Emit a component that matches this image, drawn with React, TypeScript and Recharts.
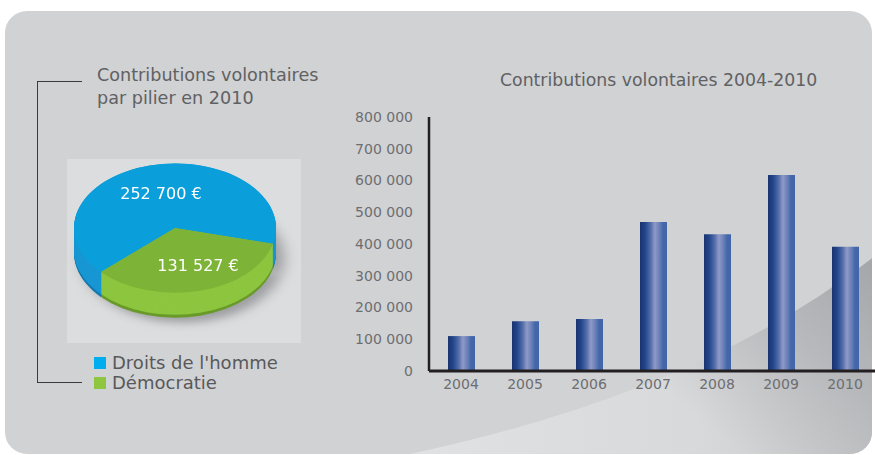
import React from 'react';
import { BarChart, Bar, XAxis, YAxis, PieChart, Pie, Cell } from 'recharts';

const years = ['2004', '2005', '2006', '2007', '2008', '2009', '2010'];
const contributions = [110000, 157000, 164000, 469000, 431000, 617000, 391000];
const yTicks = [0, 100000, 200000, 300000, 400000, 500000, 600000, 700000, 800000];

const pillarNames = ["Droits de l'homme", 'Démocratie'];
const pillarValues = [252700, 131527];
const pillarTopColors = ['#0a9fda', '#7db336'];
const pillarSideColors = ['#1897d3', '#8dc63f'];
const pillarEdgeColors = ['#1479b0', '#6a9a2a'];
const pillarLegendColors = ['#00aeef', '#8dc63f'];

const barTitle = 'Contributions volontaires 2004-2010';
const pieTitleLines = ['Contributions volontaires', 'par pilier en 2010'];

const barData = years.map((y, i) => ({ year: y, value: contributions[i] }));
const pieData = pillarNames.map((n, i) => ({ name: n, value: pillarValues[i] }));

const fmt = (v: number) => String(v).replace(/\B(?=(\d{3})+(?!\d))/g, ' ');

const FONT = '"DejaVu Sans", sans-serif';
const TEXT = '#606163';
const SCALE_Y = 0.64;
const RAD = Math.PI / 180;
const PIE_CX = 115;
const PIE_CY = 122;
const PIE_R = 101;
const DEPTH = 39;
const depthOffsets = Array.from({ length: 27 }, (_, i) => DEPTH - i * 1.5);

const renderTopLabel = (props: any) => {
  const { cx, cy, midAngle, outerRadius, value, index } = props;
  const r = outerRadius * (index === 0 ? 0.56 : 0.6);
  const x = cx + r * Math.cos(-midAngle * RAD) + (index === 0 ? 0 : 8);
  const y = cy + r * Math.sin(-midAngle * RAD);
  return (
    <text
      x={x}
      y={y}
      fill="#ffffff"
      textAnchor="middle"
      dominantBaseline="central"
      fontSize={16}
      fontFamily={FONT}
      transform={`translate(${x} ${y}) scale(1 ${1 / SCALE_Y}) translate(${-x} ${-y})`}
    >
      {fmt(value)} €
    </text>
  );
};

const SWOOSH = 'M 405 443 Q 700 380 870 245 L 870 443 Z';

export default function App() {
  return (
    <div style={{ position: 'absolute', left: 0, top: 0, width: 875, height: 455, overflow: 'hidden', background: '#ffffff', fontFamily: FONT }}>
      {/* panel */}
      <div style={{ position: 'absolute', left: 5, top: 11, width: 867, height: 443, borderRadius: 22, background: '#d1d2d4', overflow: 'hidden' }}>
        <svg width={867} height={443} style={{ position: 'absolute', left: 0, top: 0 }}>
          <defs>
            <linearGradient id="swooshBase" gradientUnits="userSpaceOnUse" x1="420" y1="0" x2="870" y2="0">
              <stop offset="0" stopColor="#e0e1e3" />
              <stop offset="0.6" stopColor="#d8d9db" />
              <stop offset="1" stopColor="#c6c7c9" />
            </linearGradient>
            <linearGradient id="swooshDark" gradientUnits="userSpaceOnUse" x1="865" y1="255" x2="720" y2="430">
              <stop offset="0" stopColor="#a6a7aa" stopOpacity="1" />
              <stop offset="0.45" stopColor="#b1b2b5" stopOpacity="0.75" />
              <stop offset="1" stopColor="#b8b9bc" stopOpacity="0" />
            </linearGradient>
          </defs>
          <path d={SWOOSH} fill="url(#swooshBase)" />
          <path d={SWOOSH} fill="url(#swooshDark)" />
        </svg>
      </div>

      {/* bracket */}
      <div style={{ position: 'absolute', left: 37, top: 81, width: 44, height: 300, borderLeft: '1.5px solid #3a3a3c', borderTop: '1.5px solid #3a3a3c', borderBottom: '1.5px solid #3a3a3c' }} />

      {/* pie title */}
      <div style={{ position: 'absolute', left: 97, top: 64, fontSize: 17.6, lineHeight: '23px', color: TEXT, whiteSpace: 'nowrap' }}>
        {pieTitleLines.map((l) => (
          <div key={l}>{l}</div>
        ))}
      </div>

      {/* pie background */}
      <div style={{ position: 'absolute', left: 67, top: 159, width: 234, height: 184, background: '#dcdddf' }} />

      {/* pie */}
      <div style={{ position: 'absolute', left: 60, top: 150, width: 240, height: 290, transform: `scaleY(${SCALE_Y})`, transformOrigin: 'top left' }}>
        <PieChart width={240} height={290} margin={{ top: 0, right: 0, bottom: 0, left: 0 }}>
          <Pie
            data={pieData}
            dataKey="value"
            cx={PIE_CX + 8}
            cy={PIE_CY + DEPTH + 8}
            outerRadius={PIE_R}
            startAngle={-14}
            endAngle={346}
            stroke="none"
            isAnimationActive={false}
          >
            {pieData.map((d) => (
              <Cell key={'sh' + d.name} fill="#9d9ea1" style={{ filter: 'blur(7px)' }} />
            ))}
          </Pie>
          {depthOffsets.map((off, li) => (
            <Pie
              key={'layer' + li}
              data={pieData}
              dataKey="value"
              cx={PIE_CX}
              cy={PIE_CY + off}
              outerRadius={PIE_R}
              startAngle={-14}
              endAngle={346}
              stroke="none"
              isAnimationActive={false}
            >
              {pieData.map((d, i) => (
                <Cell key={d.name} fill={li < 3 ? pillarEdgeColors[i] : pillarSideColors[i]} />
              ))}
            </Pie>
          ))}
          <Pie
            data={pieData}
            dataKey="value"
            cx={PIE_CX}
            cy={PIE_CY}
            outerRadius={PIE_R}
            startAngle={-14}
            endAngle={346}
            stroke="none"
            label={renderTopLabel}
            labelLine={false}
            isAnimationActive={false}
          >
            {pieData.map((d, i) => (
              <Cell key={d.name} fill={pillarTopColors[i]} />
            ))}
          </Pie>
        </PieChart>
      </div>

      {/* pie legend */}
      <div style={{ position: 'absolute', left: 94, top: 353, fontSize: 18, lineHeight: '20px', color: '#58595b' }}>
        {pieData.map((d, i) => (
          <div key={d.name} style={{ display: 'flex', alignItems: 'center' }}>
            <span style={{ display: 'inline-block', width: 12, height: 12, background: pillarLegendColors[i], marginRight: 6 }} />
            <span>{d.name}</span>
          </div>
        ))}
      </div>

      {/* bar title */}
      <div style={{ position: 'absolute', left: 500, top: 70, fontSize: 17.3, color: TEXT, whiteSpace: 'nowrap' }}>{barTitle}</div>

      {/* bar chart */}
      <div style={{ position: 'absolute', left: 340, top: 100 }}>
        <BarChart width={537} height={300} data={barData} margin={{ top: 17, right: 0, bottom: 0, left: 0 }} barCategoryGap={0}>
          <defs>
            <linearGradient id="barGrad" x1="0" y1="0" x2="1" y2="0">
              <stop offset="0" stopColor="#1b346f" />
              <stop offset="0.18" stopColor="#22448a" />
              <stop offset="0.38" stopColor="#4e69a8" />
              <stop offset="0.55" stopColor="#8e9ac6" />
              <stop offset="0.72" stopColor="#6a80b8" />
              <stop offset="0.85" stopColor="#4567aa" />
              <stop offset="1" stopColor="#3f66a9" />
            </linearGradient>
          </defs>
          <YAxis
            width={89}
            domain={[0, 800000]}
            ticks={yTicks}
            tickFormatter={fmt}
            tickLine={false}
            tickSize={6}
            tickMargin={10}
            axisLine={{ stroke: '#231f20', strokeWidth: 2.5 }}
            tick={{ fill: '#6d6e71', fontSize: 14, fontFamily: FONT }}
            interval={0}
          />
          <XAxis
            dataKey="year"
            height={29}
            tickLine={false}
            tickSize={0}
            tickMargin={8}
            axisLine={{ stroke: '#231f20', strokeWidth: 3 }}
            tick={{ fill: '#6d6e71', fontSize: 14, fontFamily: FONT }}
            interval={0}
          />
          <Bar dataKey="value" fill="url(#barGrad)" barSize={27} isAnimationActive={false} />
        </BarChart>
      </div>
    </div>
  );
}
